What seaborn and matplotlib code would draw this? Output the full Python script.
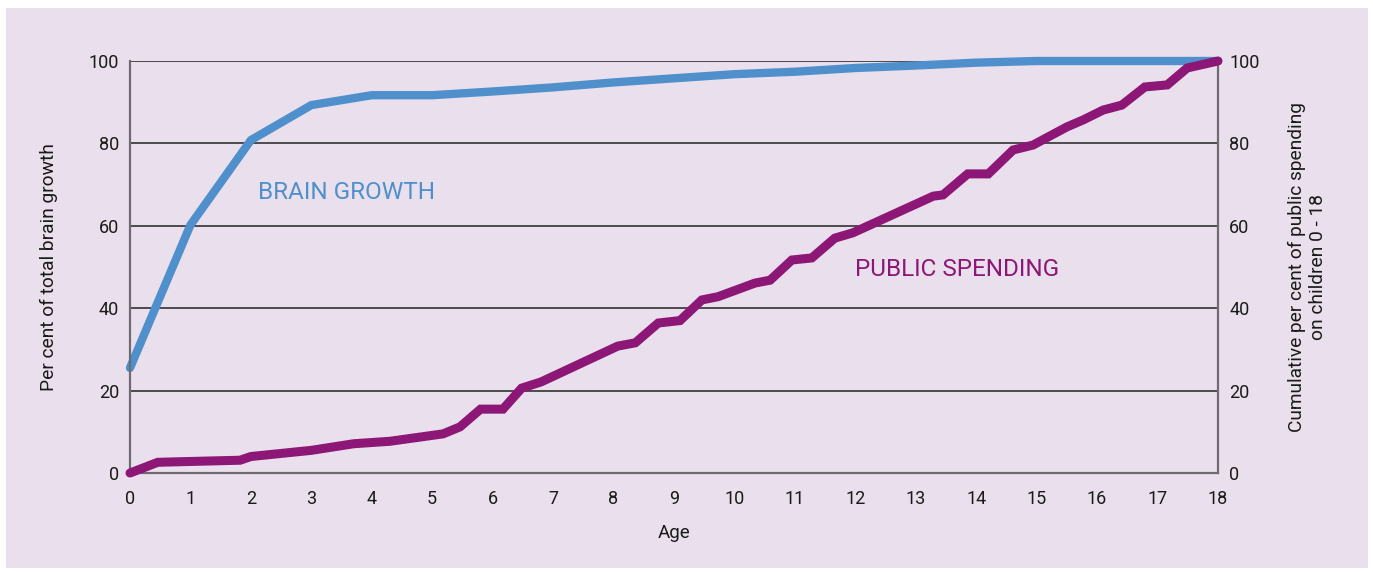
import matplotlib
matplotlib.use('agg')
import matplotlib.pyplot as plt
import seaborn as sns
import pandas as pd
from matplotlib.patches import Rectangle

# brain growth, per cent of total
brain_age = [0, 1, 2, 3, 4, 5, 6, 7, 8, 9, 10, 11, 12, 13, 14, 15, 16, 17, 18]
brain_pct = [25.5, 60.2, 80.8, 89.3, 91.7, 91.7, 92.6, 93.6, 94.8, 95.8, 96.8,
             97.4, 98.3, 98.9, 99.6, 100, 100, 100, 100]

# cumulative public spending on children, per cent
spend_age = [0, 0.46, 1.82, 2.0, 3.0, 3.7, 4.3, 5.18, 5.46, 5.8, 6.17, 6.48, 6.8,
             8.07, 8.36, 8.74, 9.1, 9.46, 9.73, 10.34, 10.59, 10.95, 11.28, 11.66,
             11.96, 13.29, 13.45, 13.86, 14.2, 14.61, 14.94, 15.5, 15.77, 16.1,
             16.41, 16.79, 17.16, 17.49, 18]
spend_pct = [0, 2.6, 3.1, 4.0, 5.5, 7.1, 7.7, 9.5, 11.2, 15.5, 15.5, 20.6, 22.1,
             30.8, 31.6, 36.4, 37.0, 42.0, 42.8, 46.1, 46.8, 51.7, 52.2, 57.0,
             58.3, 67.2, 67.5, 72.6, 72.6, 78.4, 79.6, 84.0, 85.7, 88.1,
             89.3, 93.7, 94.2, 98.3, 100]

ages = list(range(0, 19))
yticks = [0, 20, 40, 60, 80, 100]

BG = '#eadfec'
BLUE = '#4f90cc'
PURPLE = '#8c1777'
SPINE = '#6f6a72'

sns.set_style('white')
plt.rcParams['font.family'] = ['Roboto', 'DejaVu Sans']

brain = pd.DataFrame({'age': brain_age, 'pct': brain_pct})
spend = pd.DataFrame({'age': spend_age, 'pct': spend_pct})

fig = plt.figure(figsize=(13.73, 5.72), dpi=100)
fig.patch.set_facecolor('white')
fig.patches.append(Rectangle((6 / 1373, 4 / 572), 1362 / 1373, 560 / 572,
                             transform=fig.transFigure, facecolor=BG,
                             edgecolor='none', zorder=-10))

ax = fig.add_axes([130 / 1373, 1 - 473 / 572, 1088 / 1373, 412 / 572])
ax.set_facecolor(BG)
ax2 = ax.twinx()

for y in [20, 40, 60, 80, 100]:
    ax.axhline(y, color='#222222', lw=1.1, zorder=1)

sns.lineplot(data=brain, x='age', y='pct', ax=ax, color=BLUE, lw=6,
             solid_capstyle='round', solid_joinstyle='miter', clip_on=False, zorder=3)
sns.lineplot(data=spend, x='age', y='pct', ax=ax2, color=PURPLE, lw=6.5,
             solid_capstyle='round', solid_joinstyle='miter', clip_on=False, zorder=4)

for a in (ax, ax2):
    a.set_xlim(0, 18)
    a.set_ylim(0, 100)
    a.set_yticks(yticks)
    for s in a.spines.values():
        s.set_color(SPINE)
        s.set_linewidth(1.5)
    a.spines['top'].set_visible(False)
    a.tick_params(length=0, labelsize=13, colors='#1a1a1a', pad=8)

ax.set_xticks(ages)
ax.tick_params(axis='x', pad=12)
ax.set_xlabel('Age', fontsize=13.5, color='#1a1a1a', labelpad=12)
ax.set_ylabel('Per cent of total brain growth', fontsize=13.8, color='#1a1a1a', labelpad=22)
ax2.set_ylabel('Cumulative per cent of public spending\non children 0 - 18', fontsize=13.8,
               color='#1a1a1a', rotation=90, va='bottom', ha='center')
ax2.yaxis.set_label_coords(1.1, 0.5)

ax.text(2.12, 68.2, 'BRAIN GROWTH', color=BLUE, fontsize=17.5, va='center', ha='left')
ax2.text(12.0, 49.3, 'PUBLIC SPENDING', color=PURPLE, fontsize=17.5, va='center', ha='left')

fig.savefig('out.png', dpi=100, facecolor='white')
